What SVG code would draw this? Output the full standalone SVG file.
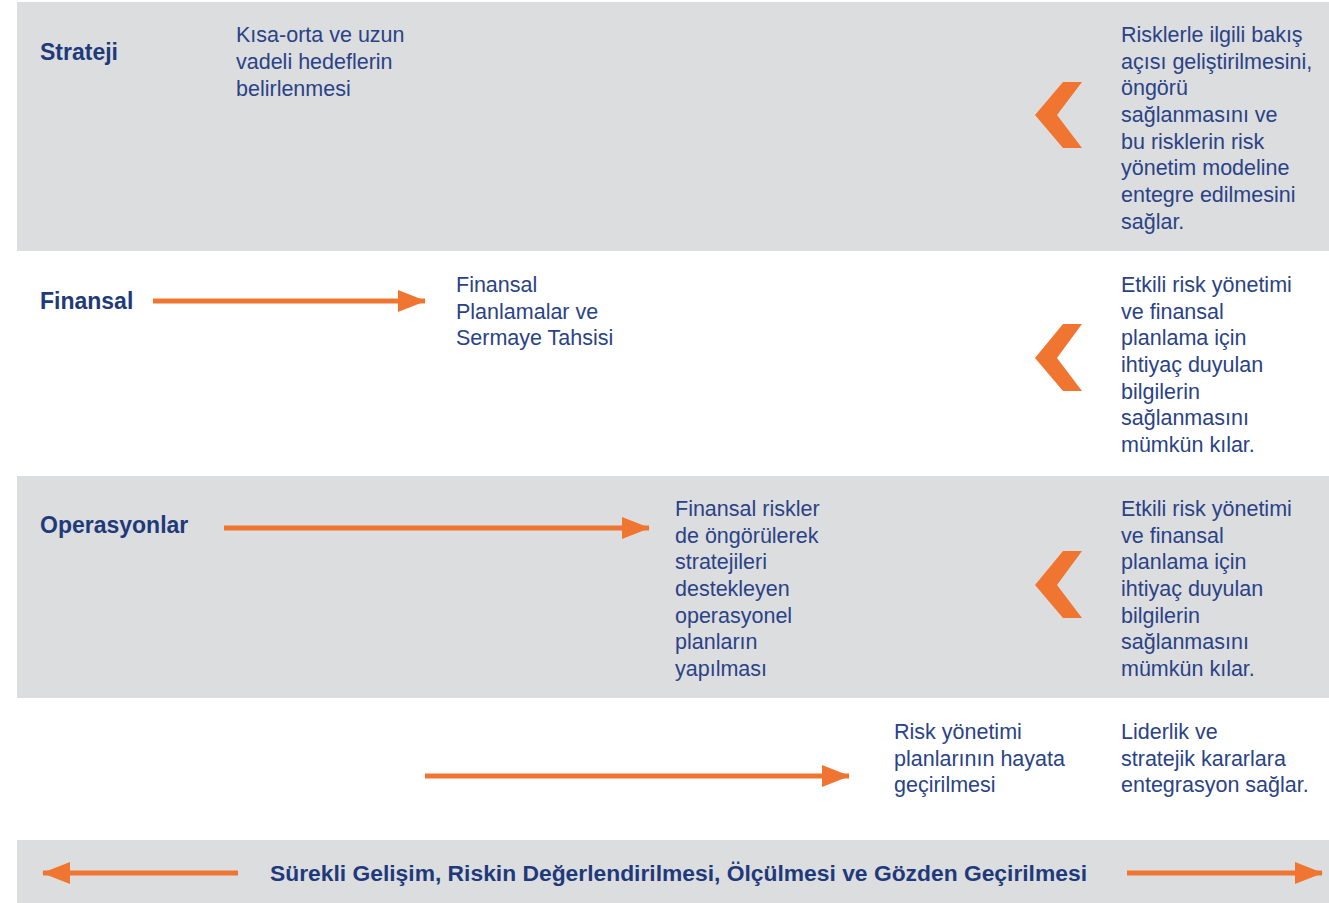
<svg xmlns="http://www.w3.org/2000/svg" width="1329" height="903" viewBox="0 0 1329 903">
<style>
.band{fill:#dcdddf}
.t{font-family:"Liberation Sans",Arial,sans-serif;font-size:21.5px;fill:#2a4386}
.h{font-family:"Liberation Sans",Arial,sans-serif;font-size:23px;font-weight:bold;fill:#1f3a7a}
.b{font-family:"Liberation Sans",Arial,sans-serif;font-size:22.5px;font-weight:bold;fill:#1f3a7a}
.arr{stroke:#f07530;stroke-width:5;fill:none}
.chev{fill:#f07530}
</style>
<defs>
<marker id="ah" markerUnits="userSpaceOnUse" markerWidth="28" markerHeight="22" refX="27" refY="11" orient="auto">
<path d="M0,0 L28,11 L0,22 Z" fill="#f07530"/>
</marker>
</defs>
<g id="backgrounds">
<rect class="band" x="17" y="2" width="1312" height="249"/>
<rect class="band" x="17" y="476" width="1312" height="222"/>
<rect class="band" x="17" y="840" width="1312" height="63"/>
</g>
<g id="strateji">
<text class="h" x="40" y="60">Strateji</text>
<text class="t" x="236"><tspan x="236" y="42">Kısa-orta ve uzun</tspan><tspan x="236" y="69">vadeli hedeflerin</tspan><tspan x="236" y="96">belirlenmesi</tspan></text>
<polygon class="chev" points="1063,82 1082,82 1057,115 1082,148 1063,148 1035,115"/>
<text class="t"><tspan x="1121" y="42">Risklerle ilgili bakış</tspan><tspan x="1121" y="68.7">açısı geliştirilmesini,</tspan><tspan x="1121" y="95.3">öngörü</tspan><tspan x="1121" y="122">sağlanmasını ve</tspan><tspan x="1121" y="148.7">bu risklerin risk</tspan><tspan x="1121" y="175.3">yönetim modeline</tspan><tspan x="1121" y="202">entegre edilmesini</tspan><tspan x="1121" y="228.7">sağlar.</tspan></text>
</g>
<g id="finansal">
<text class="h" x="40" y="309">Finansal</text>
<text class="t"><tspan x="456" y="292">Finansal</tspan><tspan x="456" y="318.7">Planlamalar ve</tspan><tspan x="456" y="345.3">Sermaye Tahsisi</tspan></text>
<polygon class="chev" points="1063,324 1082,324 1057,358 1082,391 1063,391 1035,358"/>
<text class="t"><tspan x="1121" y="292">Etkili risk yönetimi</tspan><tspan x="1121" y="318.7">ve finansal</tspan><tspan x="1121" y="345.3">planlama için</tspan><tspan x="1121" y="372">ihtiyaç duyulan</tspan><tspan x="1121" y="398.7">bilgilerin</tspan><tspan x="1121" y="425.3">sağlanmasını</tspan><tspan x="1121" y="452">mümkün kılar.</tspan></text>
</g>
<g id="operasyonlar">
<text class="h" x="40" y="533">Operasyonlar</text>
<text class="t"><tspan x="675" y="516">Finansal riskler</tspan><tspan x="675" y="542.7">de öngörülerek</tspan><tspan x="675" y="569.3">stratejileri</tspan><tspan x="675" y="596">destekleyen</tspan><tspan x="675" y="622.7">operasyonel</tspan><tspan x="675" y="649.3">planların</tspan><tspan x="675" y="676">yapılması</tspan></text>
<polygon class="chev" points="1063,551 1082,551 1057,585 1082,618 1063,618 1035,585"/>
<text class="t"><tspan x="1121" y="516">Etkili risk yönetimi</tspan><tspan x="1121" y="542.7">ve finansal</tspan><tspan x="1121" y="569.3">planlama için</tspan><tspan x="1121" y="596">ihtiyaç duyulan</tspan><tspan x="1121" y="622.7">bilgilerin</tspan><tspan x="1121" y="649.3">sağlanmasını</tspan><tspan x="1121" y="676">mümkün kılar.</tspan></text>
</g>
<g id="risk-yonetimi">
<text class="t"><tspan x="894" y="739">Risk yönetimi</tspan><tspan x="894" y="765.7">planlarının hayata</tspan><tspan x="894" y="792.3">geçirilmesi</tspan></text>
<text class="t"><tspan x="1121" y="739">Liderlik ve</tspan><tspan x="1121" y="765.7">stratejik kararlara</tspan><tspan x="1121" y="792.3">entegrasyon sağlar.</tspan></text>
</g>
<g id="surekli-gelisim">
<text class="b" x="270" y="881" textLength="817" lengthAdjust="spacingAndGlyphs">Sürekli Gelişim, Riskin Değerlendirilmesi, Ölçülmesi ve Gözden Geçirilmesi</text>
</g>
<g id="connectors">
<line class="arr" x1="153" y1="301" x2="425" y2="301" marker-end="url(#ah)"/>
<line class="arr" x1="224" y1="528" x2="649" y2="528" marker-end="url(#ah)"/>
<line class="arr" x1="425" y1="776" x2="849" y2="776" marker-end="url(#ah)"/>
<line class="arr" x1="238" y1="873" x2="43" y2="873" marker-end="url(#ah)"/>
<line class="arr" x1="1127" y1="873" x2="1322" y2="873" marker-end="url(#ah)"/>
</g>
</svg>
